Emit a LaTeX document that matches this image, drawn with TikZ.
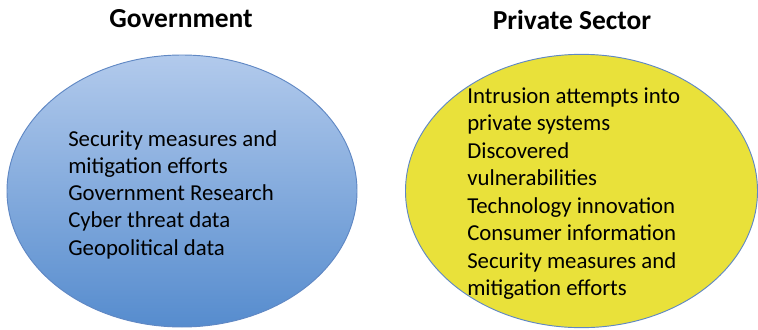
\documentclass[tikz,border=0pt]{standalone}
\usepackage{fontspec}
\setmainfont{Carlito}
\usetikzlibrary{shapes.geometric}

\definecolor{govtop}{RGB}{178,202,236}
\definecolor{govbot}{RGB}{86,140,206}
\definecolor{rim}{RGB}{96,136,196}
\definecolor{privfill}{RGB}{233,225,58}

\tikzset{
  title/.style={font=\fontsize{20.6pt}{24pt}\selectfont\bfseries, inner sep=0pt, anchor=base},
  entry/.style={font=\fontsize{17.1pt}{20.5pt}\selectfont, inner sep=0pt, anchor=base west},
  bubble/.style={ellipse, draw=rim, line width=0.7pt, inner sep=0pt}
}

\begin{document}
\begin{tikzpicture}[x=0.75pt, y=-0.75pt]
  \useasboundingbox (0,0) rectangle (758,329);

  % the two domains
  \node[bubble, top color=govtop, bottom color=govbot,
        minimum width=262.5pt, minimum height=204pt] (gov) at (182,191) {};
  \node[bubble, fill=privfill,
        minimum width=264pt, minimum height=205pt] (priv) at (581.5,191) {};

  % headings
  \node[title] (govtitle) at (181,27) {Government};
  \node[title] (privtitle) at (572,29) {Private Sector};

  % government contributions
  \foreach \t [count=\i] in {Security measures and, mitigation efforts,
      Government Research, Cyber threat data, Geopolitical data}
    \node[entry] (g\i) at (68,{146+27.3*(\i-1)}) {\t};

  % private sector contributions
  \foreach \t [count=\i] in {Intrusion attempts into, private systems,
      Discovered, vulnerabilities, Technology innovation,
      Consumer information, Security measures and, mitigation efforts}
    \node[entry] (p\i) at (467,{103+27.5*(\i-1)}) {\t};
\end{tikzpicture}
\end{document}
